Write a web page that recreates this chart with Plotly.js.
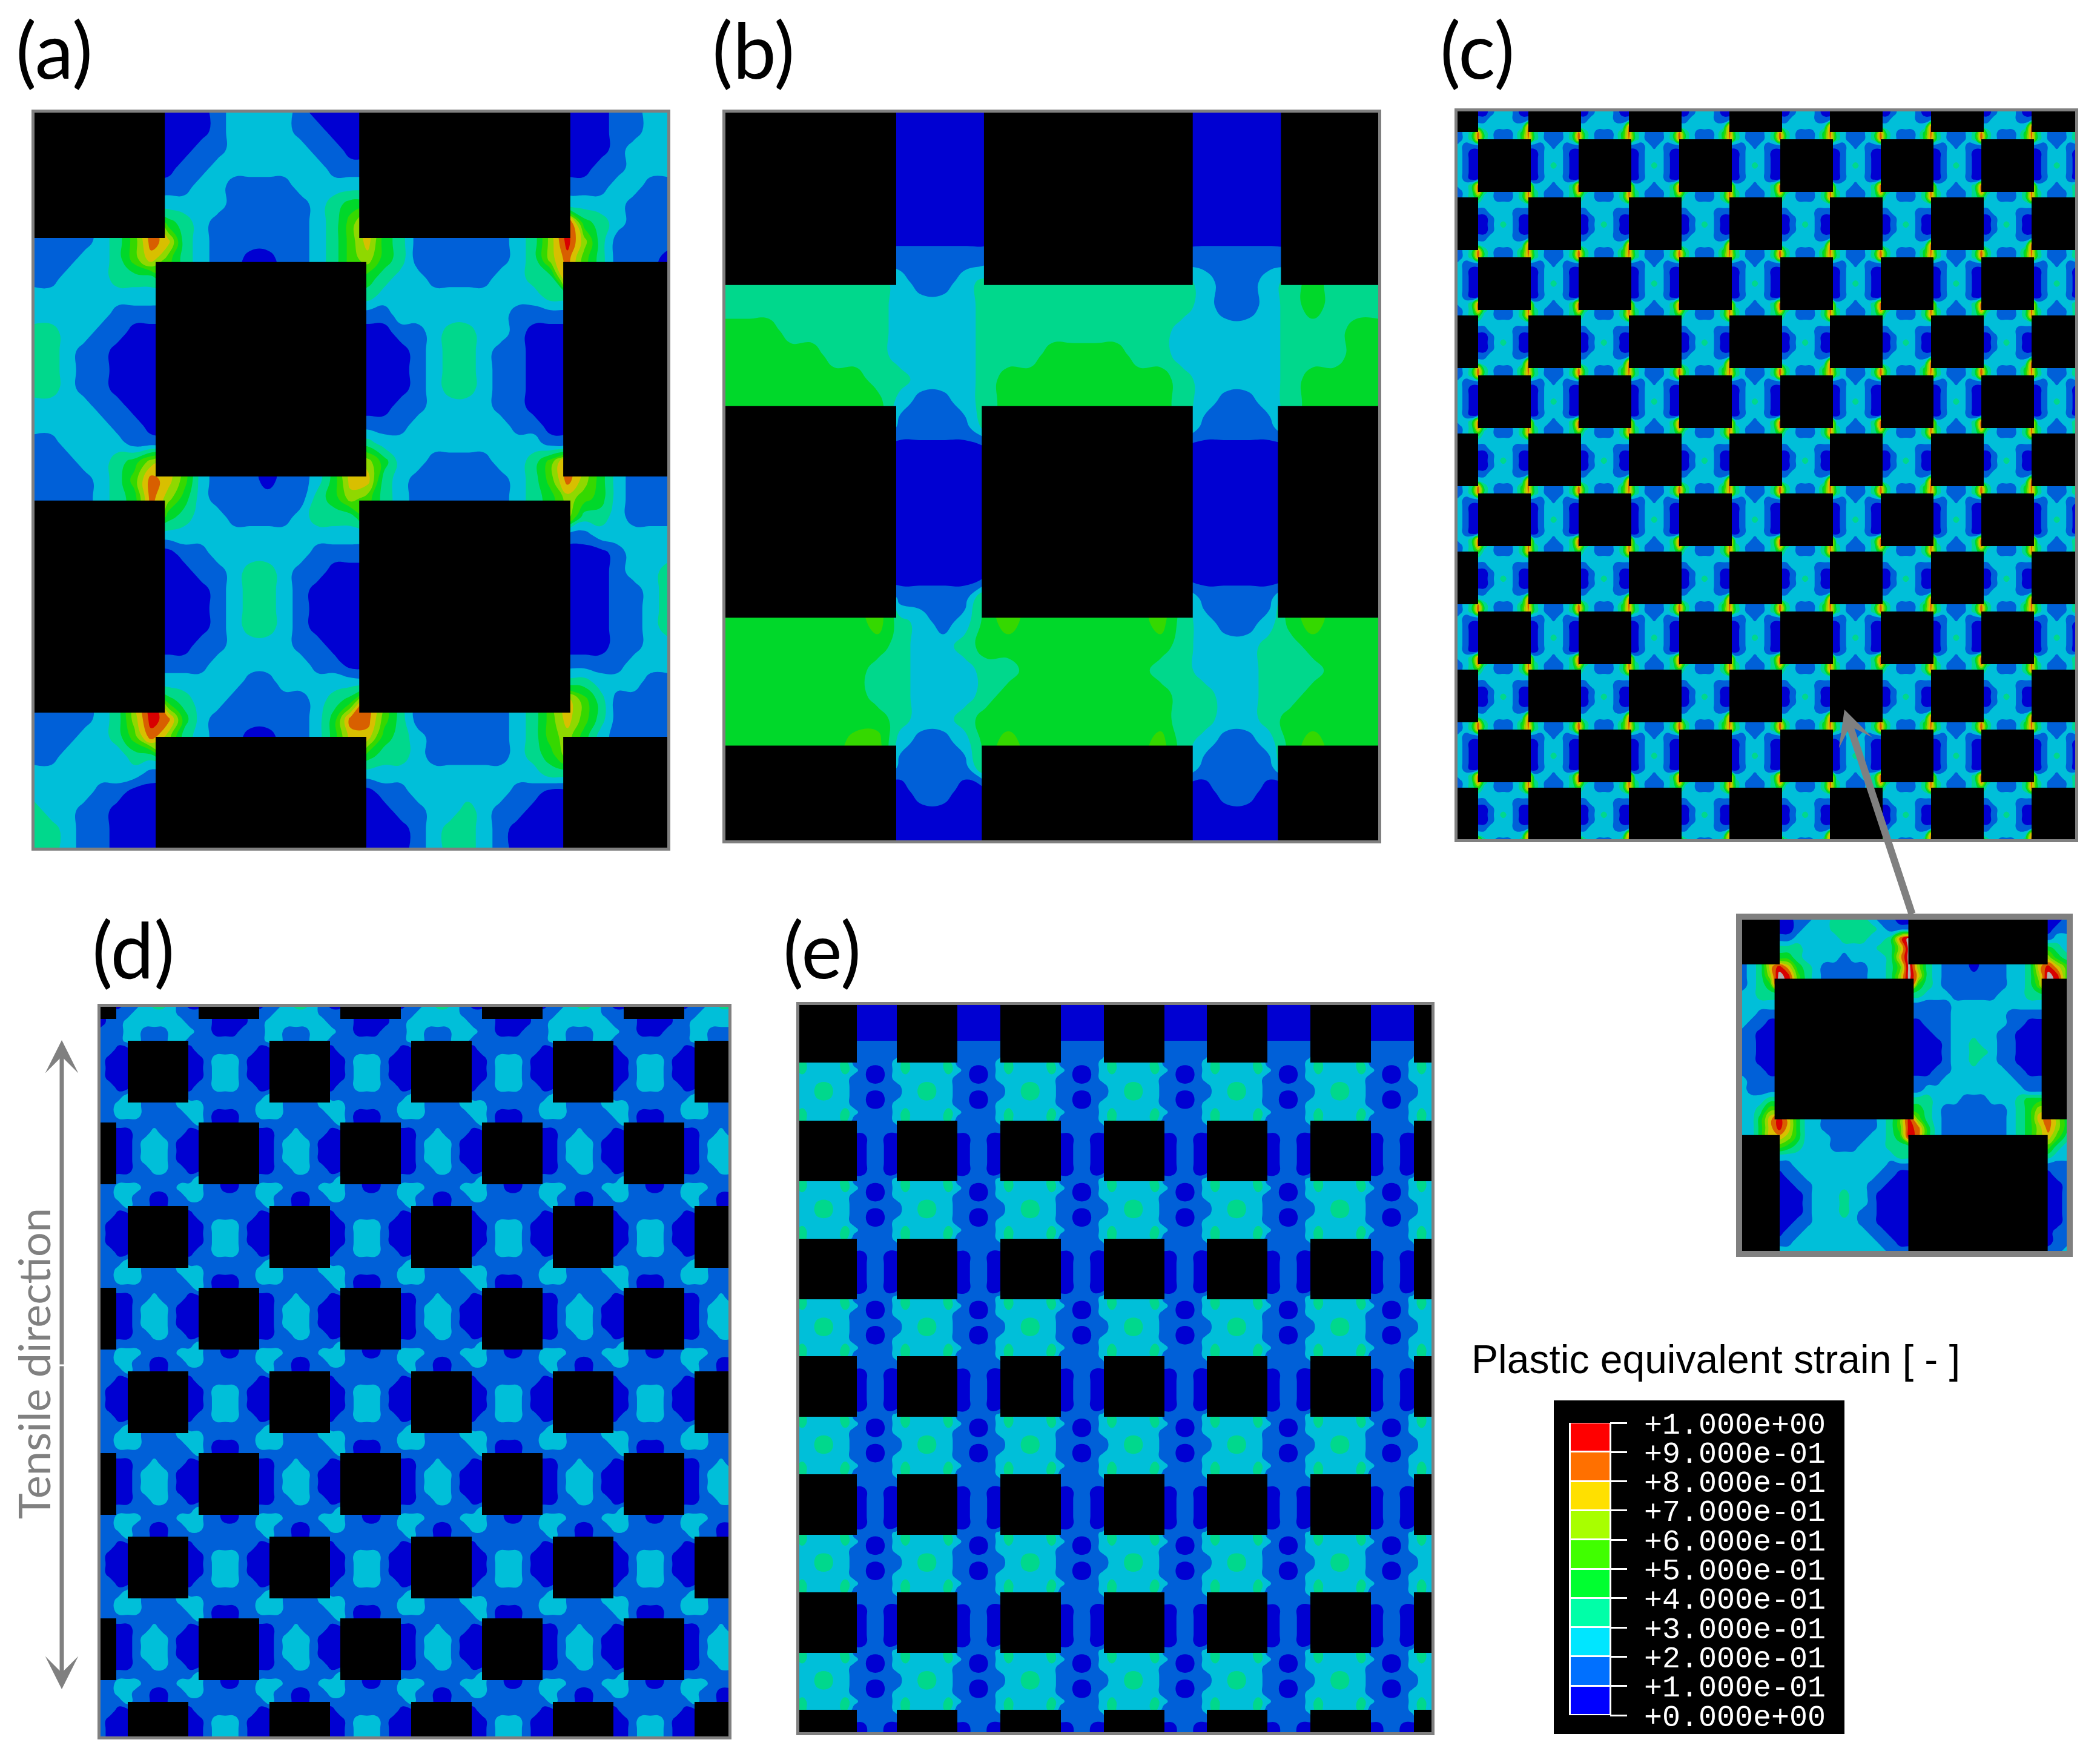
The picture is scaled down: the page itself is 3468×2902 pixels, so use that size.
<!DOCTYPE html>
<html>
<head>
<meta charset="utf-8">
<script src="https://cdn.plot.ly/plotly-3.0.1.min.js"></script>
<style>
html, body { margin: 0; padding: 0; background: #fff; }
</style>
</head>
<body>
<div id="chart"></div>
<script>
"use strict";

// Strain bands as drawn in the contour panels, '.' = under a black block (value not visible)
var bandColors = ["#0000d2", "#0060d8", "#00bfd9", "#00d88c", "#00d82a", "#35d800", "#8fd800", "#d8bf00", "#d85f00", "#d80000", "#b0b0b0"];
var legendColors = ["#0000ff", "#0070ff", "#00e6ff", "#00ffa8", "#00ff30", "#40ff00", "#a8ff00", "#ffe000", "#ff7000", "#ff0000"];
var legendLabels = ["+0.000e+00", "+1.000e-01", "+2.000e-01", "+3.000e-01", "+4.000e-01", "+5.000e-01", "+6.000e-01", "+7.000e-01", "+8.000e-01", "+9.000e-01", "+1.000e+00"];
var legendTicks = [0, 0.1, 0.2, 0.3, 0.4, 0.5, 0.6, 0.7, 0.8, 0.9, 1];

var fieldA = [
  "........000122221000.............001122",
  "........000122221100.............001122",
  "........001122222110.............001222",
  "........011222222211.............011222",
  "........112211112222.............112211",
  "........222211111234.............222111",
  "........432111111235.............432111",
  "111123587321111112357431111112369631111",
  "111223575321100112356431111112368531110",
  "11222333............432211112233.......",
  "22222222............322222222223.......",
  "22222111............112222222111.......",
  "33221100............001123322100.......",
  "33211000............000123321100.......",
  "33211000............000123321100.......",
  "33211000............000123321100.......",
  "22221100............001122221100.......",
  "22222110............111222222110.......",
  "11222211............322222222221.......",
  "11122346............642211112235.......",
  "111123587521110112477321111112358642111",
  "111123486421111113465321111112346542111",
  "........432211112333.............332111",
  "........222222222222.............122222",
  "........011222222111.............001222",
  "........001123321100.............001223",
  "........000123321000.............001123",
  "........000123321000.............001123",
  "........000123321000.............001123",
  "........001122221100.............001122",
  "........111222222110.............111222",
  "........222221122222.............322211",
  "........432211111234.............531111",
  "111123698421111112488531111112357531111",
  "111223586321100112477432111112356421111",
  "11222233............433211111234.......",
  "22222221............222222222223.......",
  "22221100............011222222110.......",
  "32211000............001122321100.......",
  "33211000............000123321000.......",
  "33211000............000123321000......."
];
var blockXA = [25, 316, 338, 805, 822, 1295, 1312, 1545];
var blockYA = [20, 280, 330, 775, 825, 1265, 1315, 1545];
var blockRowsA = ["1101110", "0000000", "0111011", "0000000", "1101110", "0000000", "0111011"];

var fieldB = [
  "........0000..........0000.....",
  "........0000..........0000.....",
  "........0000..........0000.....",
  "........0000..........0000.....",
  "........0000..........0000.....",
  "........0000..........0000.....",
  "........1111..........1111.....",
  "........2112..........2112.....",
  "3333333322223333333333211234333",
  "4443333322223333333332222233344",
  "4444433322223334444332222233344",
  "4444444332223444444443222234444",
  "4444444421123444444443211234444",
  "........1111..........1111.....",
  "........0000..........0000.....",
  "........0000..........0000.....",
  "........0000..........0000.....",
  "........0000..........0000.....",
  "........0000..........0000.....",
  "........0000..........0000.....",
  "........1111..........1111.....",
  "4444444532124544444453211245444",
  "4444444432234444444443222334444",
  "4444444332223344444433222333444",
  "4444444332223444444443322334444",
  "4444444432234444444443322344444",
  "4444445521124544444453211245444",
  "........1111..........1111.....",
  "........0110..........0110.....",
  "........0000..........0000.....",
  "........0000..........0000....."
];
var blockXB = [25, 420, 618, 623, 1106, 1303, 1310, 1535];
var blockYB = [20, 380, 633, 1075, 1342, 1540];
var blockRowsB = ["1001001", "0000000", "1011011", "0000000", "1011011"];

// One period of the pattern; the panel repeats it
var tileC = [
  ".........3211123",
  ".........1121211",
  ".........0122210",
  ".........0122210",
  ".........0123210",
  ".........0122210",
  ".........0122210",
  ".........2221223",
  "8321112383211123",
  "42211123........",
  "22222222........",
  "11222211........",
  "00122210........",
  "00123210........",
  "00122210........",
  "11222211........",
  "22222222........",
  "8321112483211123"
];
var blockXC = [2407, 2441, 2524, 2528, 2607, 2611, 2690, 2694, 2773, 2777, 2856, 2860, 2940, 2943, 3022, 3027, 3106, 3109, 3189, 3193, 3272, 3276, 3355, 3359, 3430];
var blockYC = [184, 218, 230, 317, 326, 413, 425, 512, 521, 608, 620, 707, 716, 803, 815, 902, 911, 998, 1010, 1097, 1106, 1193, 1205, 1292, 1301, 1388];
var blockOrderC = "B0A0B0A0B0A0B0A0B0A0B0A0B";
var blockRowAC = "011011101110111011101110";
var blockRowBC = "101110111011101110111011";

// One period of panel (d), and its top strip, which differs
var tileD = [
  ".......111111111",
  ".......011111110",
  ".......001222100",
  ".......001222100",
  ".......001222100",
  ".......011222110",
  ".......111111111",
  "2211112221111112",
  "2211111221000112",
  "11111111.......1",
  "01121110.......0",
  "01222100.......0",
  "01222100.......0",
  "01222100.......0",
  "01122110.......0",
  "11111111.......1",
  "2211112221100112",
  "2110011221111112"
];
var capD = [
  "11233210.......0",
  "12222211.......1",
  "2222222111000011",
  "2211122211000111"
];
var blockXD = [166, 192, 211, 311, 328, 428, 445, 545, 562, 662, 679, 779, 796, 896, 913, 1013, 1030, 1130, 1147, 1203];
var blockYD = [1663, 1683, 1719, 1821, 1854, 1956, 1992, 2094, 2127, 2229, 2265, 2367, 2400, 2502, 2538, 2640, 2673, 2775, 2811, 2868];
var blockOrderD = "B0A0B0A0B0A0B0A0B0A";
var blockRowAD = "0010001000100010001";
var blockRowBD = "1000100010001000100";

// One period of panel (e), and the dark top of its vertical bands
var tileE = [
  ".......11111",
  ".......11111",
  ".......00110",
  ".......00110",
  ".......00110",
  ".......00110",
  ".......00110",
  ".......11111",
  "232222321001",
  "222222211001",
  "122332211111",
  "122332211001",
  "222222211001",
  "232222321111"
];
var capE = [
  ".......00000",
  ".......00000",
  ".......00000",
  ".......00000",
  ".......00000",
  ".......11111",
  ".......11111",
  ".......11111"
];
var blockXE = [1320, 1415, 1481, 1581, 1652, 1752, 1823, 1923, 1993, 2093, 2164, 2264, 2335, 2364];
var blockYE = [1660, 1755, 1851, 1951, 2046, 2146, 2240, 2340, 2435, 2535, 2630, 2730, 2824, 2861];
var blockOrderE = "1010101010101";
var blockRowE = "1010101010101";

var fieldInset = [
  "....00112233332110...............001",
  "....00122233333211...............011",
  "....11222223332238...............122",
  "....33322222222336X..............432",
  "....44322221222237X..............643",
  "123797432111112235X63211101112237975",
  "1236X9532111112236X73211111112236X95",
  "1234...............43211111112235...",
  "2233...............32221111122233...",
  "2222...............11112222222222...",
  "2211...............11112222221111...",
  "2110...............01112222221100...",
  "1100...............00112222211000...",
  "1100...............00012232211000...",
  "1100...............00012233211000...",
  "1100...............00012232211000...",
  "1110...............00112222221100...",
  "2111...............11122222222111...",
  "2111...............12222222222211...",
  "2223...............33222111222344...",
  "2235...............43211111112346...",
  "2247...............53211111112347...",
  "224797422111111235984211111112346864",
  "....76422211112234...............753",
  "....54322211122233...............532",
  "....22222222222223...............322",
  "....11222222222211...............111",
  "....01122222222110...............011",
  "....00112222221100...............001",
  "....00012223221000...............001",
  "....00012223221000...............001",
  "....00012223211000...............001",
  "....00112222211000...............001",
  "....01122222221100...............011",
  "....11222222222110...............011",
  "....22222222222211...............112"
];
var blockXInset = [70, 210, 232, 787, 810, 1362, 1388, 1470];
var blockYInset = [75, 268, 330, 937, 1005, 1505];
var blockRowsInset = ["1101110", "0000000", "0111011", "0000000", "1101110"];

var panelLabels = ["(a)", "(b)", "(c)", "(d)", "(e)"];
var legendTitle = "Plastic equivalent strain [ - ]";
var directionLabel = "Tensile direction";


var pageW = 3468;
var pageH = 2902;
var frameColor = "#808080";

function mod(n, m) {
  return ((n % m) + m) % m;
}

function charValue(c) {
  if (c === "X") {
    return 1.05;
  }
  return (parseInt(c, 10) + 0.5) / 10;
}

// cells under a block are never seen, they take the nearest visible value
function fieldValues(rows) {
  function at(j, i) {
    if (j < 0 || j >= rows.length || i < 0 || i >= rows[j].length) {
      return ".";
    }
    return rows[j][i];
  }
  return rows.map(function(row, j) {
    var out = [];
    for (var i = 0; i < row.length; i += 1) {
      var c = row[i];
      for (var d = 1; c === "." && d < 200; d += 1) {
        var near = [at(j - d, i), at(j + d, i), at(j, i - d), at(j, i + d)];
        for (var k = 0; k < 4 && c === "."; k += 1) {
          c = near[k];
        }
      }
      out.push(charValue(c));
    }
    return out;
  });
}

function linspace(a, b, n) {
  var out = [];
  for (var i = 0; i < n; i += 1) {
    out.push(a + (b - a) * i / (n - 1));
  }
  return out;
}

function gridField(rows, xr, yr) {
  return {
    x: linspace(xr[0], xr[1], rows[0].length),
    y: linspace(yr[0], yr[1], rows.length),
    z: fieldValues(rows)
  };
}

function tileField(tile, cap, x0, y0, periodX, periodY, box) {
  var nx = tile[0].length;
  var ny = tile.length;
  var dx = periodX / nx;
  var dy = periodY / ny;
  var iStart = Math.floor((box[0] - x0) / dx);
  var iEnd = Math.ceil((box[2] - x0) / dx);
  var jStart = Math.floor((box[1] - y0) / dy);
  var jEnd = Math.ceil((box[3] - y0) / dy);
  var x = [];
  var y = [];
  var rows = [];
  var i;
  for (i = iStart; i <= iEnd; i += 1) {
    x.push(x0 + i * dx);
  }
  for (var j = jStart; j <= jEnd; j += 1) {
    y.push(y0 + j * dy);
    var src = j - jStart < cap.length ? cap[j - jStart] : tile[mod(j, ny)];
    var row = "";
    for (i = iStart; i <= iEnd; i += 1) {
      row += src[mod(i, nx)];
    }
    rows.push(row);
  }
  return { x: x, y: y, z: fieldValues(rows) };
}

function orderedRows(order, rowA, rowB) {
  var blank = rowA.replace(/1/g, "0");
  return order.split("").map(function(c) {
    return c === "A" || c === "1" ? rowA : c === "B" ? rowB : blank;
  });
}

function blockPath(xEdges, yEdges, rows) {
  var xs = [];
  var ys = [];
  rows.forEach(function(row, r) {
    var i = 0;
    while (i < row.length) {
      if (row[i] === "1") {
        var start = i;
        while (i + 1 < row.length && row[i + 1] === "1") {
          i += 1;
        }
        xs.push(xEdges[start], xEdges[i + 1], xEdges[i + 1], xEdges[start], xEdges[start], null);
        ys.push(yEdges[r], yEdges[r], yEdges[r + 1], yEdges[r + 1], yEdges[r], null);
      }
      i += 1;
    }
  });
  return { x: xs, y: ys };
}

function px(x) {
  return x / pageW;
}

function py(y) {
  return 1 - y / pageH;
}

function main() {
  var traces = [];
  var layout = {
    width: pageW,
    height: pageH,
    margin: { l: 0, r: 0, t: 0, b: 0 },
    paper_bgcolor: "#fff",
    plot_bgcolor: "rgba(0,0,0,0)",
    showlegend: false,
    annotations: [],
    shapes: []
  };

  var scale = bandColors.map(function(c, i) {
    return [i / (bandColors.length - 1), c];
  });

  function addPanel(n, box, xr, yr, field, blocks, lineW) {
    var suffix = n === 1 ? "" : String(n);
    var axisBase = {
      showgrid: false,
      zeroline: false,
      showticklabels: false,
      ticks: "",
      showline: true,
      mirror: true,
      linecolor: frameColor,
      linewidth: lineW,
      fixedrange: true
    };
    layout["xaxis" + suffix] = Object.assign({}, axisBase, {
      anchor: "y" + suffix,
      domain: [px(box[0]), px(box[2])],
      range: xr
    });
    layout["yaxis" + suffix] = Object.assign({}, axisBase, {
      anchor: "x" + suffix,
      domain: [py(box[3]), py(box[1])],
      range: [yr[1], yr[0]]
    });
    traces.push({
      type: "contour",
      x: field.x,
      y: field.y,
      z: field.z,
      xaxis: "x" + suffix,
      yaxis: "y" + suffix,
      autocontour: false,
      contours: { start: 0.1, end: 1.0, size: 0.1, coloring: "fill", showlines: false },
      line: { width: 0, smoothing: 1.3 },
      colorscale: scale,
      showscale: false,
      hoverinfo: "skip"
    });
    traces.push({
      type: "scatter",
      mode: "lines",
      x: blocks.x,
      y: blocks.y,
      xaxis: "x" + suffix,
      yaxis: "y" + suffix,
      fill: "toself",
      fillcolor: "#000",
      line: { width: 0, color: "#000" },
      hoverinfo: "skip"
    });
  }

  var boxA = [57, 186, 1102, 1400];
  var boxB = [1198, 186, 2276, 1388];
  var boxC = [2407, 184, 3427, 1386];
  var boxD = [166, 1663, 1203, 2868];
  var boxE = [1320, 1660, 2364, 2861];
  var boxInset = [2877, 1519, 3413, 2066];

  addPanel(1, boxA, [25, 1545], [20, 1545], gridField(fieldA, [25, 1545], [20, 1545]),
    blockPath(blockXA, blockYA, blockRowsA), 5);
  addPanel(2, boxB, [25, 1535], [20, 1540], gridField(fieldB, [25, 1535], [20, 1540]),
    blockPath(blockXB, blockYB, blockRowsB), 5);
  addPanel(3, boxC, [boxC[0], boxC[2]], [boxC[1], boxC[3]],
    tileField(tileC, [], 2441, 230, 166.2, 195, boxC),
    blockPath(blockXC, blockYC, orderedRows(blockOrderC, blockRowAC, blockRowBC)), 5);
  addPanel(4, boxD, [boxD[0], boxD[2]], [boxD[1], boxD[3]],
    tileField(tileD, capD, 211, 1719, 234, 273, boxD),
    blockPath(blockXD, blockYD, orderedRows(blockOrderD, blockRowAD, blockRowBD)), 5);
  addPanel(5, boxE, [boxE[0], boxE[2]], [boxE[1], boxE[3]],
    tileField(tileE, capE, 1481, 1851, 170.5, 194.6, boxE),
    blockPath(blockXE, blockYE, orderedRows(blockOrderE, blockRowE, blockRowE)), 5);
  addPanel(6, boxInset, [70, 1470], [75, 1505], gridField(fieldInset, [70, 1470], [75, 1505]),
    blockPath(blockXInset, blockYInset, blockRowsInset), 10);

  // legend, a small axis of its own in strain units
  layout.shapes.push({ type: "rect", xref: "paper", yref: "paper", layer: "below",
    x0: px(2566), x1: px(3046), y0: py(2864), y1: py(2313), fillcolor: "#000", line: { width: 0 } });
  layout.shapes.push({ type: "rect", xref: "paper", yref: "paper", layer: "below",
    x0: px(2591), x1: px(2661), y0: py(2833), y1: py(2350), fillcolor: "#fff", line: { width: 0 } });
  layout.xaxis7 = {
    anchor: "y7",
    domain: [px(2594), px(2658)],
    range: [0, 1],
    showgrid: false,
    zeroline: false,
    showticklabels: false,
    ticks: "",
    fixedrange: true
  };
  layout.yaxis7 = {
    anchor: "x7",
    side: "right",
    domain: [py(2833), py(2350)],
    range: [0, 1],
    showgrid: false,
    zeroline: false,
    tickmode: "array",
    tickvals: legendTicks,
    ticktext: legendLabels,
    ticks: "outside",
    ticklen: 28,
    tickwidth: 3,
    tickcolor: "#fff",
    ticklabelstandoff: 18,
    tickfont: { family: "Liberation Mono", size: 50, color: "#fff" },
    fixedrange: true
  };
  traces.push({
    type: "heatmap",
    x: [0, 1],
    y: legendTicks,
    z: legendColors.map(function(c, i) { return [i]; }),
    xaxis: "x7",
    yaxis: "y7",
    zmin: 0,
    zmax: legendColors.length - 1,
    ygap: 3,
    colorscale: legendColors.map(function(c, i) {
      return [i / (legendColors.length - 1), c];
    }),
    showscale: false,
    hoverinfo: "skip"
  });

  var labelPos = [[24, 80], [1174, 80], [2376, 80], [150, 1566], [1291, 1566]];
  panelLabels.forEach(function(text, i) {
    layout.annotations.push({
      xref: "paper", yref: "paper", x: px(labelPos[i][0]), y: py(labelPos[i][1]),
      xanchor: "left", yanchor: "middle", showarrow: false, text: text,
      font: { family: "Lato", size: 128, color: "#000" }
    });
  });
  layout.annotations.push({
    xref: "paper", yref: "paper", x: px(2428), y: py(2245),
    xanchor: "left", yanchor: "middle", showarrow: false, text: legendTitle,
    font: { family: "Liberation Sans", size: 66, color: "#000" }
  });
  layout.annotations.push({
    xref: "paper", yref: "paper", x: px(55), y: py(2252),
    xanchor: "center", yanchor: "middle", showarrow: false, text: directionLabel, textangle: -90,
    font: { family: "Lato", size: 72, color: frameColor }
  });

  // arrows: two for the tensile direction, one from panel (c) to the enlarged view
  function addArrow(tipX, tipY, tailX, tailY, width, size) {
    layout.annotations.push({
      xref: "paper", yref: "paper", x: px(tipX), y: py(tipY), text: "",
      showarrow: true, arrowhead: 3, arrowsize: size, arrowwidth: width, arrowcolor: frameColor,
      ax: tailX - tipX, ay: tailY - tipY
    });
  }
  addArrow(102, 1718, 102, 2255, 7, 1.3);
  addArrow(102, 2790, 102, 2255, 7, 1.3);
  addArrow(3046, 1172, 3158, 1511, 12, 0.8);

  Plotly.newPlot("chart", traces, layout, { displayModeBar: false });
}

window.addEventListener("load", main, false);
</script>
</body>
</html>
